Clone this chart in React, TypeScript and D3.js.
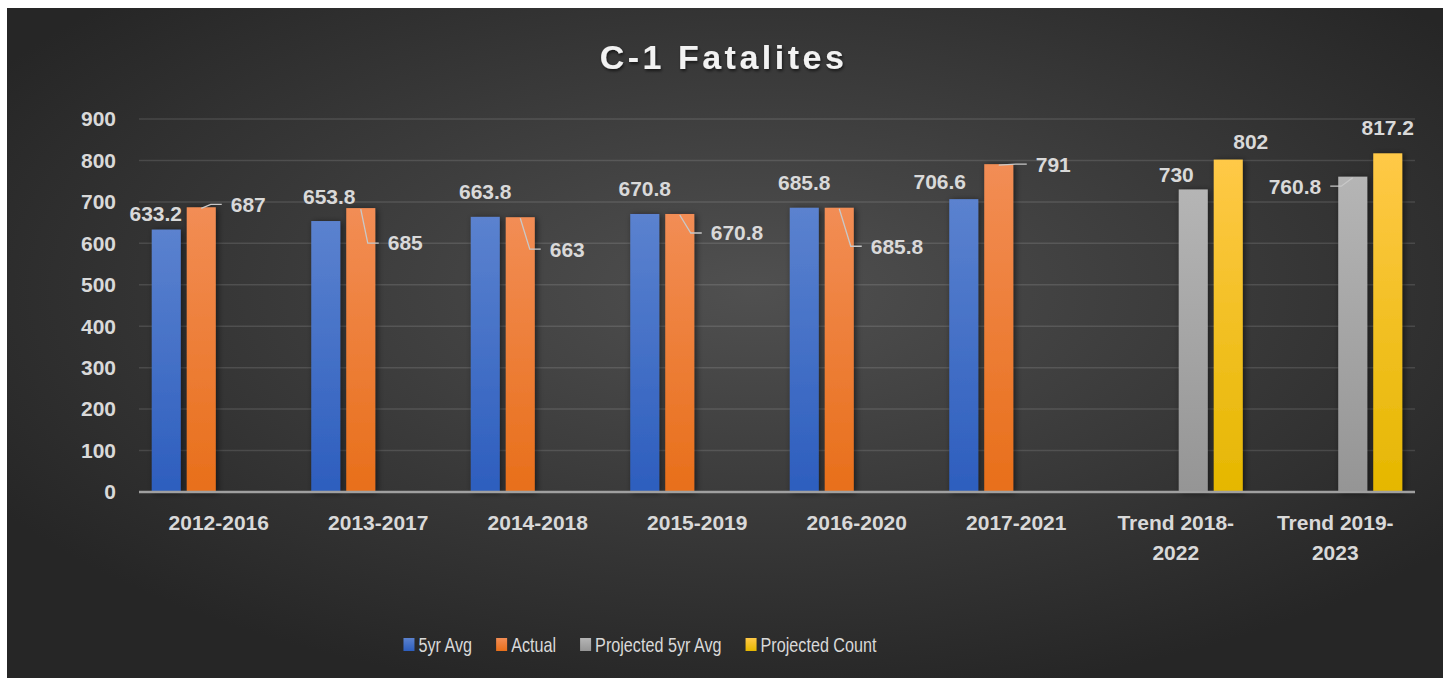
import React, { useEffect, useRef } from "react";
import * as d3 from "d3";

// ---------- data ----------
const categories = [
  "2012-2016",
  "2013-2017",
  "2014-2018",
  "2015-2019",
  "2016-2020",
  "2017-2021",
  "Trend 2018-2022",
  "Trend 2019-2023",
];
const seriesNames = ["5yr Avg", "Actual", "Projected 5yr Avg", "Projected Count"];
const avg5yr: (number | null)[] = [633.2, 653.8, 663.8, 670.8, 685.8, 706.6, null, null];
const actual: (number | null)[] = [687, 685, 663, 670.8, 685.8, 791, null, null];
const projAvg: (number | null)[] = [null, null, null, null, null, null, 730, 760.8];
const projCount: (number | null)[] = [null, null, null, null, null, null, 802, 817.2];
const yTicks = [0, 100, 200, 300, 400, 500, 600, 700, 800, 900];
const title = "C-1 Fatalites";

// ---------- styles ----------
const W = 1443;
const H = 678;
const FONT = "'Liberation Sans', Arial, sans-serif";
const gradients = [
  ["#5b82cf", "#2d5ebe"],
  ["#f28d55", "#e86f1a"],
  ["#b5b5b5", "#959595"],
  ["#ffc947", "#e5b700"],
];
type Place = { dx: number; dy: number; anchor: string; leader: boolean };
const P = (dx: number, dy: number, anchor = "middle", leader = false): Place => ({ dx, dy, anchor, leader });
const labelPlacement: (Place | null)[][] = [
  [P(-10.5, -16), P(3.5, -24), P(0, -25), P(0, -25), P(0, -25), P(-24, -18), null, null],
  [P(29.5, -3, "start", true), P(27, 35, "start", true), P(29.5, 32, "start", true), P(31, 19, "start", true), P(31.5, 38.5, "start", true), P(37, 0, "start", true), null, null],
  [null, null, null, null, null, null, P(-17, -15), P(-31.5, 9.5, "end", true)],
  [null, null, null, null, null, null, P(22.5, -18), P(0, -26)],
];
const LEGEND_SCALE_X = 0.83;

export default function App() {
  const ref = useRef<SVGSVGElement | null>(null);

  useEffect(() => {
    document.body.style.margin = "0";
    const svg = d3.select(ref.current);
    svg.selectAll("*").remove();

    const defs = svg.append("defs");
    const bg = defs.append("radialGradient").attr("id", "bg").attr("cx", "52%").attr("cy", "42%").attr("r", "62%");
    bg.append("stop").attr("offset", "0%").attr("stop-color", "#505050");
    bg.append("stop").attr("offset", "100%").attr("stop-color", "#262626");
    gradients.forEach((g, i) => {
      const lg = defs.append("linearGradient").attr("id", `g${i}`).attr("x1", 0).attr("y1", 0).attr("x2", 0).attr("y2", 1);
      lg.append("stop").attr("offset", "0%").attr("stop-color", g[0]);
      lg.append("stop").attr("offset", "100%").attr("stop-color", g[1]);
    });
    const sh = defs.append("filter").attr("id", "shadow").attr("x", "-30%").attr("y", "-10%").attr("width", "160%").attr("height", "130%");
    sh.append("feDropShadow").attr("dx", 2).attr("dy", 1).attr("stdDeviation", 3).attr("flood-color", "#000").attr("flood-opacity", 0.55);
    const tsh = defs.append("filter").attr("id", "tshadow").attr("x", "-10%").attr("y", "-30%").attr("width", "120%").attr("height", "160%");
    tsh.append("feDropShadow").attr("dx", 1).attr("dy", 2).attr("stdDeviation", 1.5).attr("flood-color", "#000").attr("flood-opacity", 0.6);

    svg.append("rect").attr("width", W).attr("height", H).attr("fill", "#fff");
    svg.append("rect").attr("x", 7).attr("y", 8).attr("width", W - 7).attr("height", H - 8).attr("fill", "url(#bg)");

    // title
    svg.append("text")
      .attr("x", 723.5).attr("y", 69)
      .attr("text-anchor", "middle")
      .attr("font-family", FONT).attr("font-weight", 700).attr("font-size", 34)
      .attr("letter-spacing", 3.5)
      .attr("fill", "#f2f2f2")
      .attr("filter", "url(#tshadow)")
      .text(title);

    const x0 = d3.scaleBand<string>().domain(categories).range([139, 1415]).paddingInner(0.16).paddingOuter(0.08);
    const x1 = d3.scaleBand<string>().domain(seriesNames).range([0, x0.bandwidth()]).paddingInner(6 / 35).paddingOuter(0);
    const y = d3.scaleLinear().domain([0, 900]).range([492, 119]);

    // gridlines
    svg.append("g").selectAll("line").data(yTicks.filter((t) => t > 0)).join("line")
      .attr("x1", 139).attr("x2", 1415)
      .attr("y1", (d) => y(d)).attr("y2", (d) => y(d))
      .attr("stroke", "rgba(255,255,255,0.12)").attr("stroke-width", 1.5);

    // y labels
    svg.append("g").selectAll("text").data(yTicks).join("text")
      .attr("x", 116).attr("y", (d) => y(d)).attr("dy", "0.35em")
      .attr("text-anchor", "end")
      .attr("font-family", FONT).attr("font-weight", 700).attr("font-size", 21)
      .attr("fill", "#d9d9d9")
      .text((d) => String(d));

    const allSeries = [avg5yr, actual, projAvg, projCount];

    // bars
    allSeries.forEach((vals, si) => {
      const items = vals.map((v, ci) => ({ v, ci })).filter((d) => d.v !== null) as { v: number; ci: number }[];
      svg.append("g").attr("filter", "url(#shadow)").selectAll("rect").data(items).join("rect")
        .attr("x", (d) => (x0(categories[d.ci]) as number) + (x1(seriesNames[si]) as number))
        .attr("y", (d) => y(d.v))
        .attr("width", x1.bandwidth())
        .attr("height", (d) => y(0) - y(d.v))
        .attr("fill", `url(#g${si})`);
    });

    // baseline
    svg.append("line").attr("x1", 139).attr("x2", 1415).attr("y1", y(0)).attr("y2", y(0))
      .attr("stroke", "#a0a0a0").attr("stroke-width", 2.5);

    // data labels
    const lab = svg.append("g");
    allSeries.forEach((vals, si) => {
      vals.forEach((v, ci) => {
        if (v === null) return;
        const pl = labelPlacement[si][ci];
        if (!pl) return;
        const bx = (x0(categories[ci]) as number) + (x1(seriesNames[si]) as number) + x1.bandwidth() / 2;
        const top = y(v);
        const tx = bx + pl.dx;
        const ty = top + pl.dy;
        if (pl.leader) {
          const dir = pl.anchor === "end" ? 1 : -1;
          const ex = tx + dir * 9;
          const elx = ex + dir * 11;
          lab.append("path")
            .attr("d", d3.line()([[bx, top + 1], [elx, ty], [ex, ty]]))
            .attr("fill", "none").attr("stroke", "#c8c8c8").attr("stroke-width", 1.3);
        }
        lab.append("text")
          .attr("x", tx).attr("y", ty).attr("dy", "0.35em")
          .attr("text-anchor", pl.anchor)
          .attr("font-family", FONT).attr("font-weight", 700).attr("font-size", 21)
          .attr("fill", "#d9d9d9")
          .text(String(v));
      });
    });

    // x labels with wrapping
    const step = x0.step();
    categories.forEach((c) => {
      const cx = (x0(c) as number) + x0.bandwidth() / 2;
      const t = svg.append("text")
        .attr("x", cx).attr("y", 530)
        .attr("text-anchor", "middle")
        .attr("font-family", FONT).attr("font-weight", 700).attr("font-size", 21)
        .attr("fill", "#d9d9d9")
        .text(c);
      const len = (t.node() as SVGTextElement).getComputedTextLength();
      if (len > step) {
        const idx = c.lastIndexOf("-");
        const lines = [c.slice(0, idx + 1), c.slice(idx + 1)];
        t.text(null);
        lines.forEach((ln, i) => {
          t.append("tspan").attr("x", cx).attr("dy", i === 0 ? 0 : 30).text(ln);
        });
      }
    });

    // legend
    const lg = svg.append("g");
    let cur = 0;
    seriesNames.forEach((n, i) => {
      lg.append("rect").attr("x", cur).attr("y", 638).attr("width", 11).attr("height", 13).attr("fill", `url(#g${i})`);
      const t = lg.append("text")
        .attr("transform", `translate(${cur + 15},651.5) scale(${LEGEND_SCALE_X},1)`)
        .attr("font-family", FONT)
        .attr("font-size", 19.5)
        .attr("fill", "#d9d9d9")
        .text(n);
      const w = (t.node() as SVGTextElement).getComputedTextLength() * LEGEND_SCALE_X;
      cur += 15 + w + 24;
    });
    const total = cur - 24;
    lg.attr("transform", `translate(${640 - total / 2},0)`);
  }, []);

  return <svg ref={ref} width={W} height={H} style={{ display: "block" }} />;
}
